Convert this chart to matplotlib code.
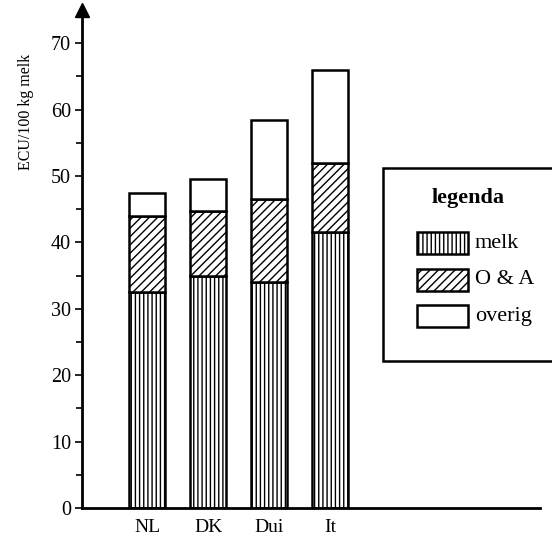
import matplotlib.pyplot as plt
from matplotlib.patches import Rectangle

landen = ["NL", "DK", "Dui", "It"]
melk = [32.5, 35.0, 34.0, 41.5]
o_en_a = [11.5, 9.8, 12.5, 10.5]
overig = [3.5, 4.7, 12.0, 14.0]
legenda = ["melk", "O & A", "overig"]
arceringen = ["||||", "////", ""]

plt.rcParams['font.family'] = ['Liberation Serif', 'DejaVu Serif']
plt.rcParams['hatch.linewidth'] = 1.0

W, H = 552, 538
fig = plt.figure(figsize=(W / 100, H / 100), dpi=100)
ax = fig.add_axes([82 / W, 30 / H, 458 / W, 498 / H])

x = list(range(len(landen)))
w = 0.59
bodem2 = [m + o for m, o in zip(melk, o_en_a)]
ax.bar(x, melk, w, color="white", edgecolor="black", hatch=arceringen[0], linewidth=1.8)
ax.bar(x, o_en_a, w, bottom=melk, color="white", edgecolor="black", hatch=arceringen[1], linewidth=1.8)
ax.bar(x, overig, w, bottom=bodem2, color="white", edgecolor="black", linewidth=1.8)

ax.set_xlim(-1.066, 6.44)
ax.set_ylim(0, 75)
ax.set_xticks(x)
ax.set_xticklabels(landen, fontsize=14)
ax.set_yticks(range(0, 71, 10))
ax.set_yticks(range(5, 71, 10), minor=True)
ax.tick_params(axis="x", length=0, pad=8)
ax.tick_params(axis="y", which="major", length=5, width=1.2, labelsize=14.5, pad=3)
ax.tick_params(axis="y", which="minor", length=4, width=1.2)
for s in ["top", "right"]:
    ax.spines[s].set_visible(False)
ax.spines["left"].set_linewidth(2)
ax.spines["bottom"].set_linewidth(2)
ax.plot(0, 1, marker="^", markersize=10, color="black", transform=ax.transAxes, clip_on=False)
ax.set_ylabel("ECU/100 kg melk", fontsize=11.5)
ax.yaxis.set_label_coords(-0.105, 0.795)

# legenda als los kader, rechts buiten de staven
def fx(px):
    return px / W

def fy(py):
    return 1 - py / H

fig.patches.append(Rectangle((fx(383), fy(361)), fx(200), 193 / H, transform=fig.transFigure,
                             facecolor="white", edgecolor="black", linewidth=1.8))
fig.text(fx(468), fy(198), "legenda", ha="center", va="center", fontsize=16, fontweight="bold")
for i, (lab, h) in enumerate(zip(legenda, arceringen)):
    yc = 243 + i * 36.5
    fig.patches.append(Rectangle((fx(417), fy(yc + 11)), fx(51), 22 / H, transform=fig.transFigure,
                                 facecolor="white", edgecolor="black", hatch=h, linewidth=1.8))
    fig.text(fx(475), fy(yc), lab, ha="left", va="center", fontsize=16)

fig.savefig("out.png", dpi=100)
